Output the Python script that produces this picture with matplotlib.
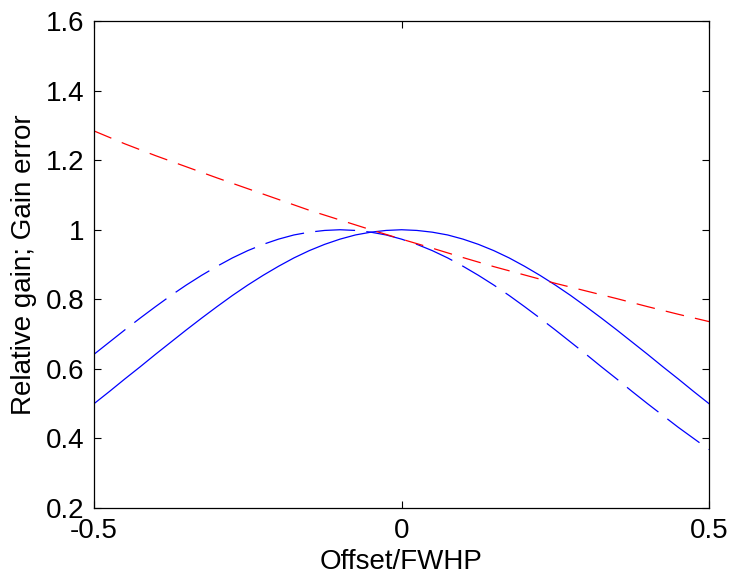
import numpy as np
import matplotlib.pyplot as plt

plt.rcParams['font.family'] = ['Liberation Sans', 'DejaVu Sans']

# offset in units of FWHP (fine grid for the beam curves)
offset_fine = [-0.5, -0.475, -0.45, -0.425, -0.4, -0.375, -0.35, -0.325, -0.3, -0.275, -0.25,
               -0.225, -0.2, -0.175, -0.15, -0.125, -0.1, -0.075, -0.05, -0.025, 0.0,
               0.025, 0.05, 0.075, 0.1, 0.125, 0.15, 0.175, 0.2, 0.225, 0.25,
               0.275, 0.3, 0.325, 0.35, 0.375, 0.4, 0.425, 0.45, 0.475, 0.5]

# relative gain, centred beam
gain_centred = [0.500, 0.535, 0.571, 0.606, 0.642, 0.677, 0.712, 0.746, 0.779, 0.811, 0.841,
                0.869, 0.895, 0.919, 0.940, 0.958, 0.973, 0.985, 0.993, 0.998, 1.000,
                0.998, 0.993, 0.985, 0.973, 0.958, 0.940, 0.919, 0.895, 0.869, 0.841,
                0.811, 0.779, 0.746, 0.712, 0.677, 0.642, 0.606, 0.571, 0.535, 0.500]

# relative gain, shifted beam
gain_shifted = [0.642, 0.677, 0.712, 0.746, 0.779, 0.811, 0.841, 0.869, 0.895, 0.919, 0.940,
                0.958, 0.973, 0.985, 0.993, 0.998, 1.000, 0.998, 0.993, 0.985, 0.973,
                0.958, 0.940, 0.919, 0.895, 0.869, 0.841, 0.811, 0.779, 0.746, 0.712,
                0.677, 0.642, 0.606, 0.571, 0.535, 0.500, 0.466, 0.432, 0.400, 0.368]

# gain error (ratio)
offset = [-0.5, -0.45, -0.4, -0.35, -0.3, -0.25, -0.2, -0.15, -0.1, -0.05, 0.0,
          0.05, 0.1, 0.15, 0.2, 0.25, 0.3, 0.35, 0.4, 0.45, 0.5]
gain_error = [1.284, 1.247, 1.213, 1.181, 1.149, 1.118, 1.087, 1.056, 1.028, 1.000, 0.973,
              0.947, 0.920, 0.894, 0.870, 0.846, 0.824, 0.802, 0.779, 0.757, 0.736]

fig = plt.figure(figsize=(7.29, 5.76), dpi=100)
ax = fig.add_axes([0.129, 0.118, 0.8436, 0.8455])

ax.plot(offset_fine, gain_centred, color='blue', lw=0.9)
ax.plot(offset_fine, gain_shifted, color='blue', lw=0.9, dashes=(32, 9))
ax.plot(offset, gain_error, color='red', lw=0.9, dashes=(15, 9))

ax.set_xlim(-0.5, 0.5)
ax.set_ylim(0.2, 1.6)
ax.set_xticks([-0.5, 0, 0.5])
ax.set_xticklabels(['-0.5', '0', '0.5'])
ax.set_yticks([0.2, 0.4, 0.6, 0.8, 1.0, 1.2, 1.4, 1.6])
ax.set_yticklabels(['0.2', '0.4', '0.6', '0.8', '1', '1.2', '1.4', '1.6'])
ax.tick_params(direction='in', top=True, right=True, labelsize=20, length=5)
ax.tick_params(axis='x', pad=7)
ax.tick_params(axis='y', pad=7)
for s in ax.spines.values():
    s.set_linewidth(0.9)

ax.set_xlabel('Offset/FWHP', fontsize=20, labelpad=4)
ax.set_ylabel('Relative gain; Gain error', fontsize=20, labelpad=6)

plt.savefig('out.png', dpi=100)
